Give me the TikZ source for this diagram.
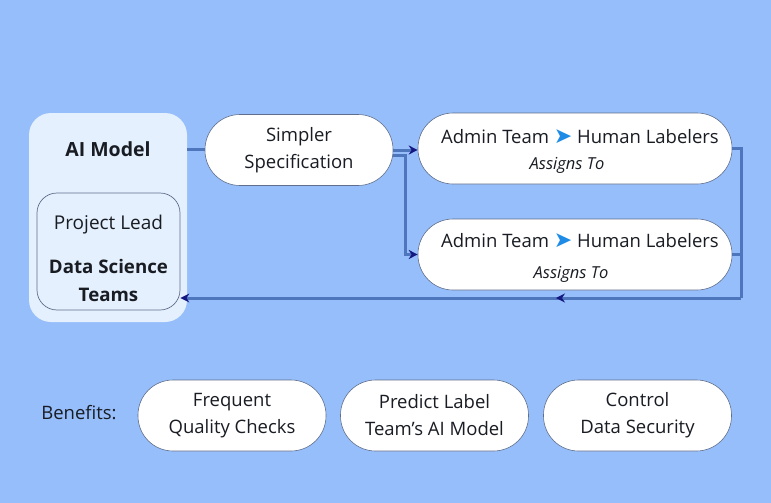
\documentclass[tikz,border=0pt]{standalone}
\usepackage{fontspec}
\setmainfont{Open Sans}
\newfontfamily\symfont{DejaVu Sans}
\usetikzlibrary{arrows.meta,decorations.markings}

\definecolor{bgblue}{RGB}{150,190,250}
\definecolor{paleblue}{RGB}{228,240,253}
\definecolor{linkblue}{RGB}{78,118,188}
\definecolor{tipnavy}{RGB}{22,24,130}
\definecolor{edgegray}{RGB}{95,110,140}
\definecolor{markblue}{RGB}{30,140,230}
\definecolor{inkdark}{RGB}{25,28,35}

\newcommand{\pointer}{{\color{markblue}\symfont\fontsize{22}{22}\selectfont\char"27A4}}

\begin{document}
\begin{tikzpicture}[x=1pt,y=-1pt,font=\fontsize{18.5}{27}\selectfont,text=inkdark,
  >={Stealth[length=9pt,width=9pt,color=tipnavy]}]
  \tikzset{pill/.style={draw=edgegray,line width=0.6pt,fill=white,rounded corners=35pt,
      minimum width=188pt,minimum height=71pt,align=center,inner sep=0pt},
    link/.style={draw=linkblue,line width=3pt},
    note/.style={font=\fontsize{16.5}{18}\selectfont\itshape}}
  \fill[bgblue] (0,0) rectangle (771,503);
  \useasboundingbox (0,0) rectangle (771,503);
  % left block
  \node[fill=paleblue,rounded corners=22pt,minimum width=158pt,minimum height=209pt] (aibox) at (108,217.5) {};
  \node[font=\fontsize{19.5}{21}\selectfont\bfseries] (aimodel) at (108,149) {AI Model};
  \node[draw=edgegray,line width=0.7pt,fill=paleblue,rounded corners=20pt,minimum width=143pt,minimum height=117pt] (team) at (108.5,251.5) {};
  \node[font=\fontsize{19}{21}\selectfont] (lead) at (108.5,225) {Project Lead};
  \node[font=\fontsize{18.7}{28}\selectfont\bfseries,align=center] (dsteam) at (108.5,280) {Data Science\\Teams};
  % flow
  \node[pill] (spec) at (299,150) {Simpler\\Specification};
  \node[pill,minimum width=314pt] (admin1) at (575,148.5) {};
  \node (asg1) at (580,137) {Admin Team \pointer{} Human Labelers};
  \node[note] (to1) at (567,165) {Assigns To};
  \node[pill,minimum width=314pt] (admin2) at (575,254.5) {};
  \node (asg2) at (580,241) {Admin Team \pointer{} Human Labelers};
  \node[note] (to2) at (571,274) {Assigns To};
  \coordinate (split) at (405,155);
  \coordinate (ret) at (741,298);
  \draw[link] (aimodel -| aibox.east) -- (aimodel -| spec.west);
  \draw[link,->] (spec.east) -- (spec.east -| admin1.west);
  \draw[link,->] (spec.east |- split) -- (split) |- (admin2.west);
  \draw[link] (admin1.east) -| (ret);
  \draw[link] (admin2.east) -- (admin2.east -| ret);
  \draw[link,->,postaction={decorate},decoration={markings,
      mark=at position 0.33 with {\arrow{Stealth[length=9pt,width=9pt,color=tipnavy]}}}]
    (ret) -- (team.east |- ret);
  % benefits
  \node (benefits) at (79,413) {Benefits:};
  \node[pill] (checks) at (232,415.5) {Frequent\\Quality Checks};
  \node[pill] (predict) at (434.5,415.5) {Predict Label\\Team’s AI Model};
  \node[pill] (secure) at (637.5,415.5) {Control\\Data Security};
\end{tikzpicture}
\end{document}
